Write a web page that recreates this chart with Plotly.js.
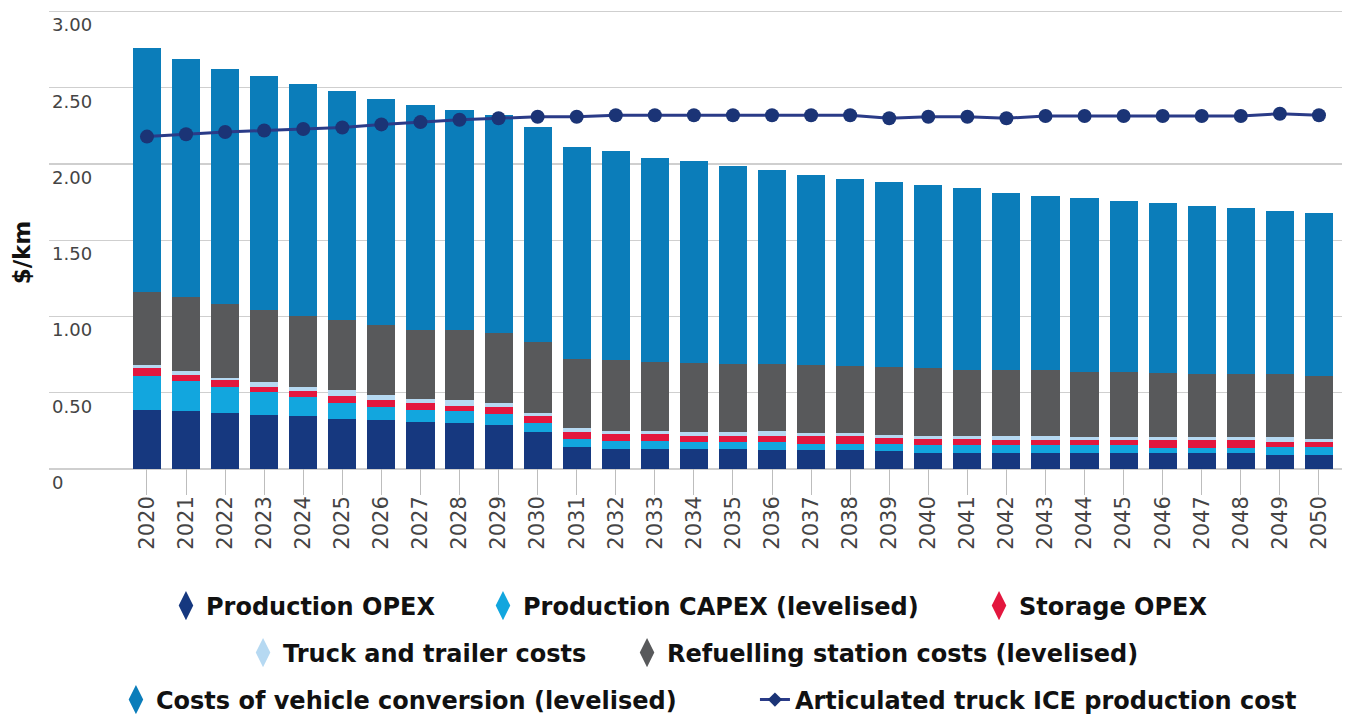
<!DOCTYPE html>
<html>
<head>
<meta charset="utf-8">
<script src="https://cdn.plot.ly/plotly-3.0.1.min.js"></script>
<style>html,body{margin:0;padding:0;background:#fff;}#chart{width:1345px;height:714px;}</style>
</head>
<body>
<div id="chart"></div>
<script>
// ---- data ----
const years = ['2020','2021','2022','2023','2024','2025','2026','2027','2028','2029','2030',
  '2031','2032','2033','2034','2035','2036','2037','2038','2039','2040',
  '2041','2042','2043','2044','2045','2046','2047','2048','2049','2050'];
const productionOpex = [0.39,0.38,0.37,0.355,0.345,0.33,0.32,0.31,0.30,0.29,0.245,
  0.145,0.13,0.13,0.13,0.13,0.125,0.125,0.125,0.12,0.105,
  0.105,0.105,0.105,0.105,0.105,0.105,0.105,0.105,0.095,0.095];
const productionCapex = [0.22,0.195,0.165,0.15,0.125,0.105,0.09,0.08,0.08,0.07,0.055,
  0.055,0.055,0.055,0.045,0.045,0.055,0.04,0.04,0.045,0.05,
  0.05,0.05,0.05,0.05,0.05,0.035,0.035,0.035,0.05,0.05];
const storageOpex = [0.05,0.045,0.05,0.035,0.045,0.045,0.04,0.045,0.035,0.05,0.05,
  0.045,0.045,0.045,0.045,0.045,0.035,0.05,0.05,0.04,0.045,
  0.045,0.035,0.035,0.035,0.035,0.05,0.05,0.05,0.03,0.03];
const truckTrailer = [0.02,0.025,0.015,0.03,0.02,0.04,0.035,0.025,0.035,0.02,0.02,
  0.025,0.02,0.02,0.02,0.02,0.035,0.02,0.02,0.02,0.02,
  0.02,0.025,0.025,0.02,0.02,0.02,0.02,0.02,0.035,0.025];
const refuelling = [0.48,0.48,0.48,0.47,0.47,0.46,0.46,0.455,0.465,0.465,0.465,
  0.45,0.465,0.455,0.455,0.45,0.44,0.45,0.44,0.445,0.445,
  0.43,0.435,0.435,0.425,0.425,0.42,0.415,0.415,0.415,0.41];
const conversion = [1.60,1.565,1.545,1.54,1.52,1.50,1.48,1.47,1.44,1.425,1.41,
  1.39,1.37,1.335,1.325,1.30,1.27,1.245,1.23,1.21,1.195,
  1.19,1.16,1.14,1.145,1.12,1.115,1.10,1.085,1.065,1.07];
const iceCost = [2.18,2.195,2.21,2.22,2.23,2.24,2.26,2.275,2.29,2.30,2.31,
  2.31,2.32,2.32,2.32,2.32,2.32,2.32,2.32,2.30,2.31,
  2.31,2.30,2.315,2.315,2.315,2.315,2.315,2.315,2.33,2.32];
const yTickVals = [0,0.5,1,1.5,2,2.5,3];
const yTickText = ['0','0.50','1.00','1.50','2.00','2.50','3.00'];

const C = {
  opex:'#16387f', capex:'#12a6de', storage:'#e3173e', truck:'#b6d9f2',
  refuel:'#58595b', conv:'#0b7dba', line:'#2a3b88', marker:'#1b3476'
};

function bar(name, y, color){
  return {type:'bar', name:name, x:years, y:y, marker:{color:color, line:{width:0}},
          showlegend:false, hoverinfo:'x+y+name'};
}
function legendItem(name, color, legend){
  return {type:'scatter', mode:'markers', name:name, x:[null], y:[null],
          marker:{symbol:'diamond-tall', size:16, color:color, line:{color:color, width:3}},
          legend:legend, showlegend:true};
}

const traces = [
  bar('Production OPEX', productionOpex, C.opex),
  bar('Production CAPEX (levelised)', productionCapex, C.capex),
  bar('Storage OPEX', storageOpex, C.storage),
  bar('Truck and trailer costs', truckTrailer, C.truck),
  bar('Refuelling station costs (levelised)', refuelling, C.refuel),
  bar('Costs of vehicle conversion (levelised)', conversion, C.conv),
  {type:'scatter', mode:'lines+markers', name:'Articulated truck ICE production cost',
   x:years, y:iceCost, line:{color:C.line, width:3}, marker:{color:C.marker, size:14},
   showlegend:false},
  legendItem('Production OPEX', C.opex, 'legend'),
  legendItem('Production CAPEX (levelised)', C.capex, 'legend2'),
  legendItem('Storage OPEX', C.storage, 'legend3'),
  legendItem('Truck and trailer costs', C.truck, 'legend4'),
  legendItem('Refuelling station costs (levelised)', C.refuel, 'legend5'),
  legendItem('Costs of vehicle conversion (levelised)', C.conv, 'legend6'),
  {type:'scatter', mode:'lines+markers', name:'Articulated truck ICE production cost',
   x:[null], y:[null], line:{color:C.line, width:3},
   marker:{symbol:'diamond', size:11, color:C.marker}, legend:'legend7', showlegend:true}
];

const legFont = {family:'"DejaVu Sans", sans-serif', size:24, color:'#111', weight:'bold'};
function leg(x, y){
  return {x:x, y:y, xref:'container', yref:'container', xanchor:'left', yanchor:'middle',
          orientation:'h', bgcolor:'rgba(0,0,0,0)', borderwidth:0, font:legFont};
}

const layout = {
  width:1345, height:714,
  margin:{l:49, r:3, t:10, b:219, pad:0},
  paper_bgcolor:'#fff', plot_bgcolor:'#fff',
  barmode:'stack', bargap:0.28,
  showlegend:true,
  xaxis:{type:'category', range:[-2.508, 30.59], fixedrange:true,
         showgrid:false, zeroline:false, showline:false,
         ticks:'inside', ticklen:26, tickwidth:1, tickcolor:'#bdbdbd',
         ticklabelstandoff:-4,
         tickangle:-90, tickfont:{family:'"DejaVu Sans", sans-serif', size:21, color:'#444'}},
  yaxis:{range:[-0.17, 3.01], tickvals:yTickVals, ticktext:yTickText, fixedrange:true,
         showgrid:true, gridcolor:'#cfcfcf', gridwidth:1.3,
         zeroline:true, zerolinecolor:'#cfcfcf', zerolinewidth:1.3, showline:false,
         ticks:'', ticklabelposition:'inside bottom', ticklabelshift:1,
         tickfont:{family:'"DejaVu Sans", sans-serif', size:18, color:'#444'},
         title:{text:'$/km', standoff:14, font:{family:'"DejaVu Sans", sans-serif', size:23, color:'#111', weight:'bold'}},
         automargin:false},
  legend: leg(0.1234, 0.1513),
  legend2: leg(0.3591, 0.1513),
  legend3: leg(0.7279, 0.1513),
  legend4: leg(0.1807, 0.0854),
  legend5: leg(0.4662, 0.0854),
  legend6: leg(0.0862, 0.0196),
  legend7: leg(0.5613, 0.0196)
};

Plotly.newPlot('chart', traces, layout, {displayModeBar:false, staticPlot:true});
</script>
</body>
</html>
